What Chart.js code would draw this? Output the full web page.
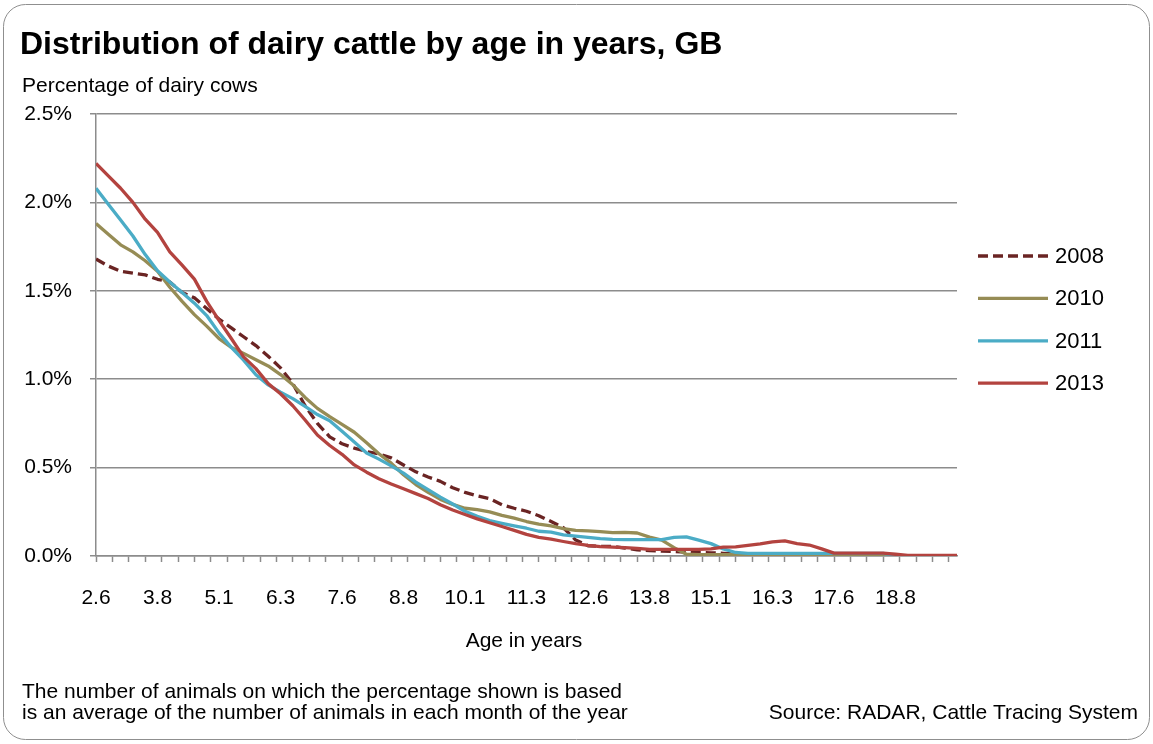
<!DOCTYPE html>
<html lang="en">
<head>
<meta charset="UTF-8">
<title>Distribution of dairy cattle by age in years, GB</title>
<script src="https://cdn.jsdelivr.net/npm/chart.js"></script>
<style>
  html, body { margin: 0; padding: 0; background: #fff; }
</style>
</head>
<body>
<canvas id="myChart" width="1153" height="744"></canvas>
<script>
// age in months, one reading every 3 months (31 = 2.6 years)
const ageMonths = [31, 34, 37, 40, 43, 46, 49, 52, 55, 58, 61, 64, 67, 70, 73, 76, 79, 82, 85, 88,
  91, 94, 97, 100, 103, 106, 109, 112, 115, 118, 121, 124, 127, 130, 133, 136, 139, 142, 145, 148,
  151, 154, 157, 160, 163, 166, 169, 172, 175, 178, 181, 184, 187, 190, 193, 196, 199, 202, 205, 208,
  211, 214, 217, 220, 223, 226, 229, 232, 235, 238, 241];

// percentage of dairy cows
const pct2008 = [1.68, 1.64, 1.61, 1.60, 1.59, 1.565, 1.55, 1.49, 1.46, 1.40,
  1.34, 1.29, 1.24, 1.19, 1.13, 1.064, 0.975, 0.85, 0.75, 0.674,
  0.635, 0.61, 0.591, 0.577, 0.555, 0.515, 0.476, 0.447, 0.422, 0.386,
  0.36, 0.34, 0.324, 0.29, 0.27, 0.253, 0.228, 0.195, 0.16, 0.09,
  0.058, 0.055, 0.055, 0.045, 0.035, 0.03, 0.028, 0.025, 0.022, 0.02,
  0.018, 0.015, 0.012, 0.01, 0.008, 0.005, 0.003, 0.002, 0.002, 0.002,
  0.002, 0.002, 0.002, 0.002, 0.002, 0.002, 0.002, 0.002, 0.002, 0.002, 0.002];
const pct2010 = [1.88, 1.82, 1.76, 1.72, 1.67, 1.61, 1.52, 1.44, 1.365, 1.30,
  1.23, 1.18, 1.146, 1.11, 1.075, 1.026, 0.968, 0.897, 0.835, 0.788,
  0.745, 0.70, 0.64, 0.578, 0.525, 0.46, 0.404, 0.36, 0.32, 0.292,
  0.27, 0.262, 0.25, 0.23, 0.214, 0.195, 0.18, 0.17, 0.155, 0.145,
  0.142, 0.138, 0.132, 0.134, 0.13, 0.107, 0.09, 0.047, 0.01, 0.008,
  0.008, 0.008, 0.008, 0.008, 0.008, 0.008, 0.005, 0.005, 0.005, 0.005,
  0.005, 0.003, 0.003, 0.003, 0.003, 0.002, 0.002, 0.002, 0.002, 0.002, 0.002];
const pct2011 = [2.08, 1.99, 1.90, 1.81, 1.705, 1.613, 1.55, 1.49, 1.43, 1.36,
  1.262, 1.18, 1.108, 1.025, 0.968, 0.927, 0.89, 0.846, 0.80, 0.765,
  0.705, 0.645, 0.583, 0.548, 0.51, 0.469, 0.418, 0.375, 0.333, 0.294,
  0.253, 0.224, 0.20, 0.185, 0.171, 0.157, 0.14, 0.135, 0.12, 0.112,
  0.105, 0.098, 0.094, 0.093, 0.093, 0.093, 0.093, 0.105, 0.108, 0.09,
  0.07, 0.04, 0.02, 0.015, 0.015, 0.015, 0.015, 0.015, 0.015, 0.015,
  0.015, 0.015, 0.015, 0.015, 0.015, 0.003, 0.002, 0.002, 0.002, 0.002, 0.002];
const pct2013 = [2.22, 2.15, 2.08, 2.00, 1.905, 1.83, 1.72, 1.645, 1.566, 1.44,
  1.333, 1.23, 1.126, 1.06, 0.975, 0.918, 0.85, 0.769, 0.684, 0.625,
  0.575, 0.515, 0.474, 0.437, 0.407, 0.38, 0.353, 0.325, 0.29, 0.26,
  0.235, 0.21, 0.188, 0.167, 0.145, 0.122, 0.105, 0.095, 0.082, 0.07,
  0.06, 0.053, 0.05, 0.047, 0.043, 0.037, 0.037, 0.037, 0.037, 0.037,
  0.04, 0.05, 0.052, 0.06, 0.068, 0.08, 0.085, 0.07, 0.062, 0.04,
  0.016, 0.016, 0.016, 0.016, 0.016, 0.01, 0.003, 0.003, 0.003, 0.003, 0.003];

// x labels shown every 15 months, tick marks every 4 months
const tickLabels = ['2.6', '3.8', '5.1', '6.3', '7.6', '8.8', '10.1', '11.3', '12.6', '13.8', '15.1', '16.3', '17.6', '18.8'];
const yTicks = [0, 0.5, 1.0, 1.5, 2.0, 2.5];

const FONT = '"Liberation Sans", Arial, sans-serif';
const GREY = '#8c8c8c';

const monthTicks = [];
for (let m = 31; m <= 241; m++) monthTicks.push({ value: m });

const series = [
    { label: '2008', values: pct2008, color: '#6a2423', dash: [10, 5], order: 3 },
    { label: '2010', values: pct2010, color: '#968c55', dash: [], order: 2 },
    { label: '2011', values: pct2011, color: '#4bacc6', dash: [], order: 1 },
    { label: '2013', values: pct2013, color: '#b3433f', dash: [], order: 0 },
];

// background, frame, titles, notes and legend
const decorations = {
    id: 'decorations',
    beforeDraw(chart) {
        const ctx = chart.ctx;
        ctx.save();
        ctx.fillStyle = '#fff';
        ctx.fillRect(0, 0, chart.width, chart.height);
        ctx.strokeStyle = '#8f8f8f';
        ctx.lineWidth = 1;
        ctx.beginPath();
        ctx.roundRect(3.5, 4.5, 1146, 735, 22);
        ctx.stroke();
        ctx.restore();
    },
    afterDraw(chart) {
        const ctx = chart.ctx;
        ctx.save();
        ctx.fillStyle = '#000';
        ctx.textBaseline = 'middle';

        ctx.font = 'bold 32px ' + FONT;
        ctx.fillText('Distribution of dairy cattle by age in years, GB', 20, 45);

        ctx.font = '21px ' + FONT;
        ctx.fillText('Percentage of dairy cows', 22, 86);

        ctx.textAlign = 'center';
        ctx.fillText('Age in years', 524, 641);

        ctx.textAlign = 'left';
        ctx.fillText('The number of animals on which the percentage shown is based', 22, 692);
        ctx.fillText('is an average of the number of animals in each month of the year', 22, 713);
        ctx.textAlign = 'right';
        ctx.fillText('Source: RADAR, Cattle Tracing System', 1138, 713);

        // legend
        ctx.textAlign = 'left';
        ctx.font = '22px ' + FONT;
        chart.data.datasets.forEach((ds, i) => {
            const y = 256 + i * 42.4;
            ctx.strokeStyle = ds.borderColor;
            ctx.lineWidth = ds.borderWidth;
            ctx.setLineDash(ds.borderDash);
            ctx.beginPath();
            ctx.moveTo(978, y);
            ctx.lineTo(1048, y);
            ctx.stroke();
            ctx.fillText(ds.label, 1055, y + 1);
        });
        ctx.restore();
    }
};

const data = {
    datasets: series.map(s => ({
        label: s.label,
        data: ageMonths.map((m, i) => ({ x: m, y: s.values[i] })),
        borderColor: s.color,
        borderWidth: 3.3,
        borderDash: s.dash,
        borderJoinStyle: 'round',
        pointRadius: 0,
        tension: 0,
        order: s.order
    }))
};

const config = {
    type: 'line',
    data,
    options: {
        responsive: false,
        animation: false,
        layout: { padding: { left: 0, top: 114, right: 196, bottom: 138 } },
        plugins: {
            legend: { display: false },
            tooltip: { enabled: false }
        },
        scales: {
            x: {
                type: 'linear',
                min: 31,
                max: 241,
                afterBuildTicks(axis) { axis.ticks = monthTicks.slice(); },
                afterFit(axis) { axis.height = 50; },
                grid: {
                    drawOnChartArea: false,
                    tickLength: 6,
                    tickWidth: 1.5,
                    tickColor: ctx => ctx.index % 4 === 0 ? GREY : 'rgba(0,0,0,0)'
                },
                border: { color: GREY, width: 1.5 },
                ticks: {
                    autoSkip: false,
                    maxRotation: 0,
                    minRotation: 0,
                    padding: 24,
                    color: '#000',
                    font: { family: FONT, size: 21 },
                    callback: (v, i) => i % 15 === 0 ? (tickLabels[i / 15] || '') : ''
                }
            },
            y: {
                min: 0,
                max: 2.5,
                afterBuildTicks(axis) { axis.ticks = yTicks.map(v => ({ value: v })); },
                afterFit(axis) { axis.width = 96; },
                grid: { color: GREY, lineWidth: 1.5, tickLength: 6 },
                border: { color: GREY, width: 1.5 },
                ticks: {
                    padding: 18,
                    color: '#000',
                    font: { family: FONT, size: 21 },
                    callback: v => v.toFixed(1) + '%'
                }
            }
        }
    },
    plugins: [decorations]
};

var myChart = new Chart(document.getElementById('myChart'), config);
</script>
</body>
</html>
